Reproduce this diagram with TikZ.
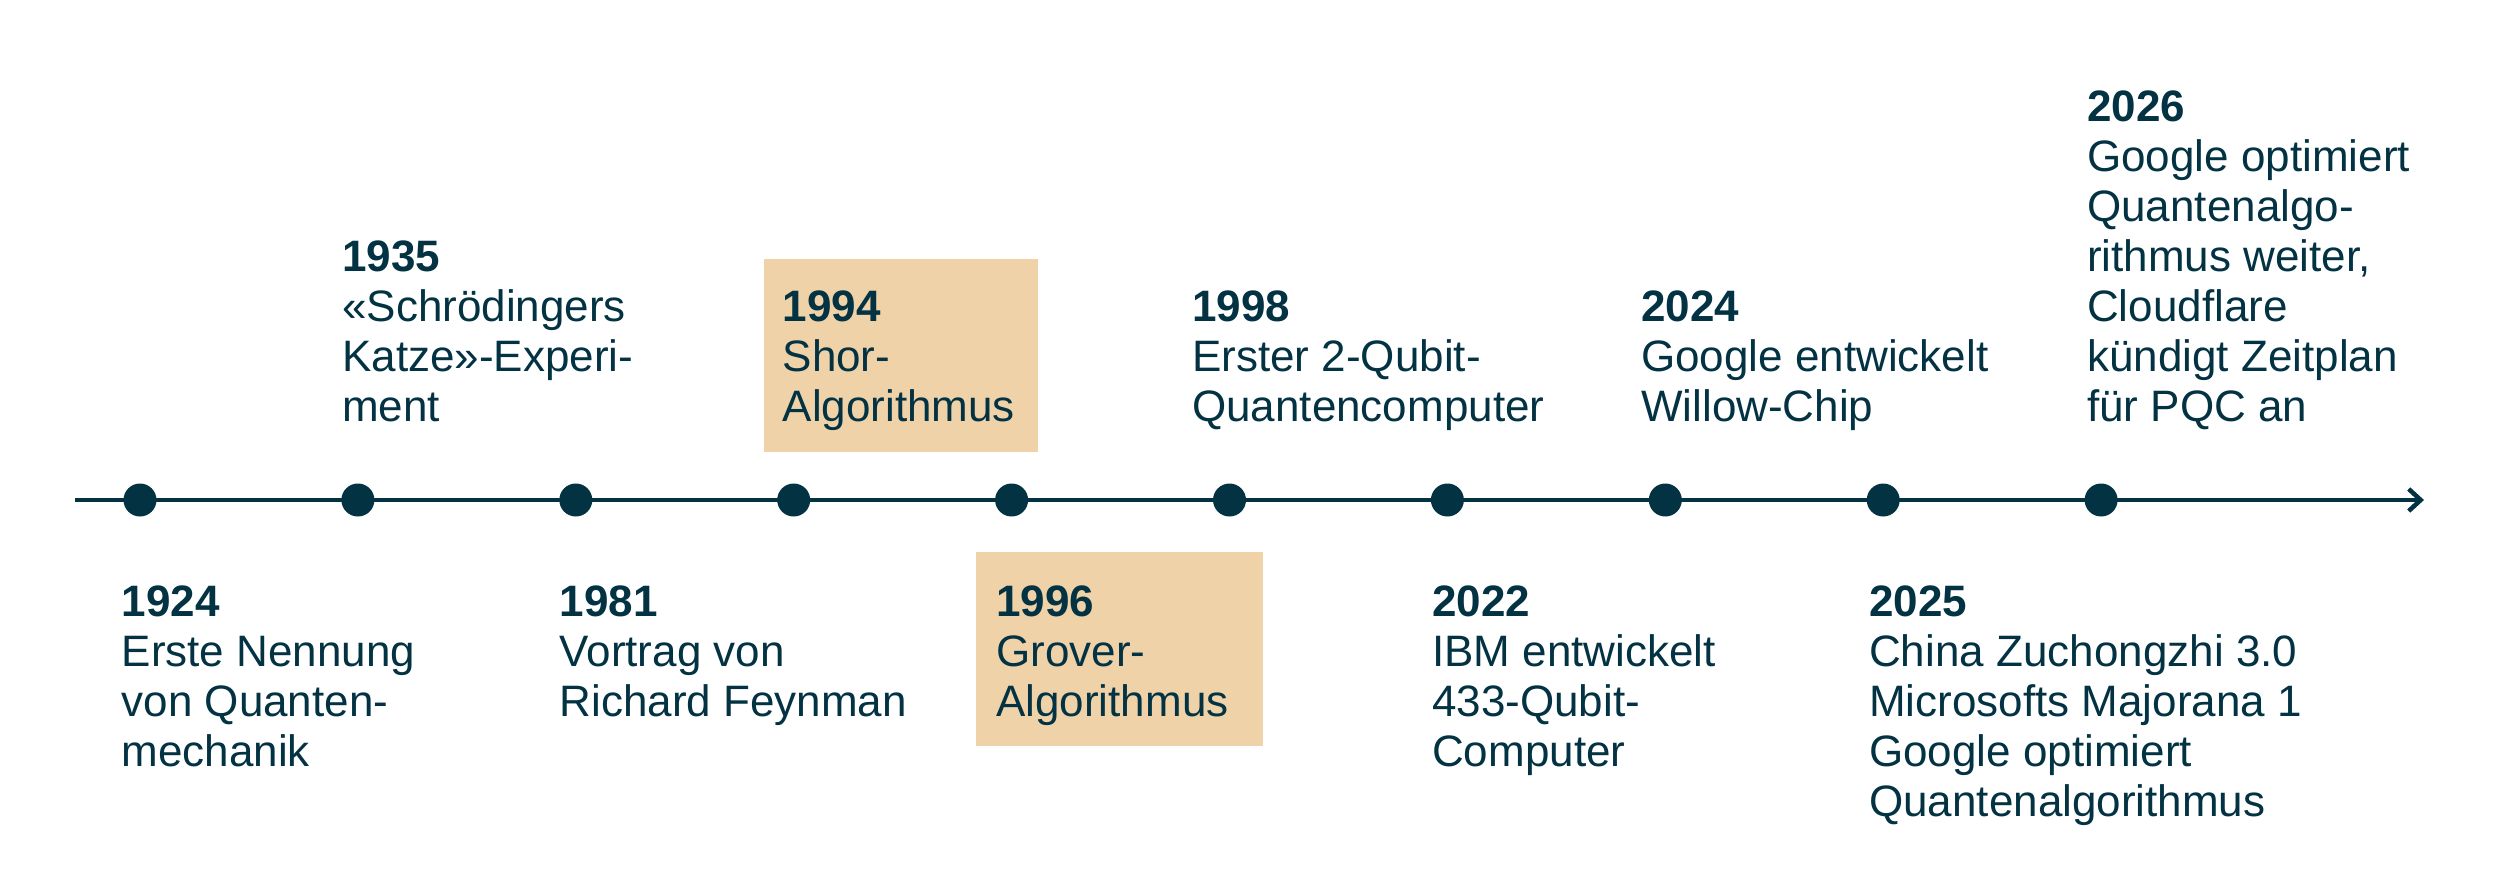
\documentclass[tikz,border=0pt]{standalone}
\usepackage{fontspec}
\setmainfont{Liberation Sans}
\usetikzlibrary{arrows.meta}
\definecolor{navy}{HTML}{033243}
\definecolor{sand}{HTML}{EFD2A8}
\begin{document}
\begin{tikzpicture}[x=1pt,y=-1pt,
  ev/.style={anchor=north west, inner sep=0pt, align=left, text=navy, font=\fontsize{44}{50}\selectfont},
  hl/.style={fill=sand, draw=none, anchor=north west, inner sep=0pt},
  dot/.style={circle, fill=navy, draw=none, inner sep=0pt, minimum size=33pt},
  axis/.style={draw=navy, line width=4.5pt, -{Straight Barb[length=12pt,width=22pt]}}]
\useasboundingbox (0,0) rectangle (2500,896);
% highlight boxes
\node[hl, minimum width=274pt, minimum height=193pt] (b1994) at (764,259) {};
\node[hl, minimum width=287pt, minimum height=194pt] (b1996) at (976,552) {};
% axis
\coordinate (s) at (75,500);
\coordinate (e) at (2424,500);
\draw[axis] (s) -- (e);
\foreach \i [count=\k] in {0,...,9}
  \node[dot] (d\k) at (140+217.9*\i,500) {};
% top events (first baseline - 40)
\node[ev] (t1935) at (342,231.7) {\textbf{1935}\rule{0pt}{40pt}\\«Schrödingers\\Katze»-Experi-\\ment};
\node[ev] (t1994) at (782.5,281.7) {\textbf{1994}\rule{0pt}{40pt}\\Shor-\\Algorithmus};
\node[ev] (t1998) at (1192,281.7) {\textbf{1998}\rule{0pt}{40pt}\\Erster 2-Qubit-\\Quantencomputer};
\node[ev] (t2024) at (1641,281.7) {\textbf{2024}\rule{0pt}{40pt}\\Google entwickelt\\Willow-Chip};
\node[ev] (t2026) at (2087,81.7) {\textbf{2026}\rule{0pt}{40pt}\\Google optimiert\\Quantenalgo-\\rithmus weiter,\\Cloudflare\\kündigt Zeitplan\\für PQC an};
% bottom events
\node[ev] (t1924) at (121.5,576.7) {\textbf{1924}\rule{0pt}{40pt}\\Erste Nennung\\von Quanten-\\mechanik};
\node[ev] (t1981) at (559.5,576.7) {\textbf{1981}\rule{0pt}{40pt}\\Vortrag von\\Richard Feynman};
\node[ev] (t1996) at (996,576.7) {\textbf{1996}\rule{0pt}{40pt}\\Grover-\\Algorithmus};
\node[ev] (t2022) at (1432,576.7) {\textbf{2022}\rule{0pt}{40pt}\\IBM entwickelt\\433-Qubit-\\Computer};
\node[ev] (t2025) at (1869,576.7) {\textbf{2025}\rule{0pt}{40pt}\\China Zuchongzhi 3.0\\Microsofts Majorana 1\\Google optimiert\\Quantenalgorithmus};
\end{tikzpicture}
\end{document}
